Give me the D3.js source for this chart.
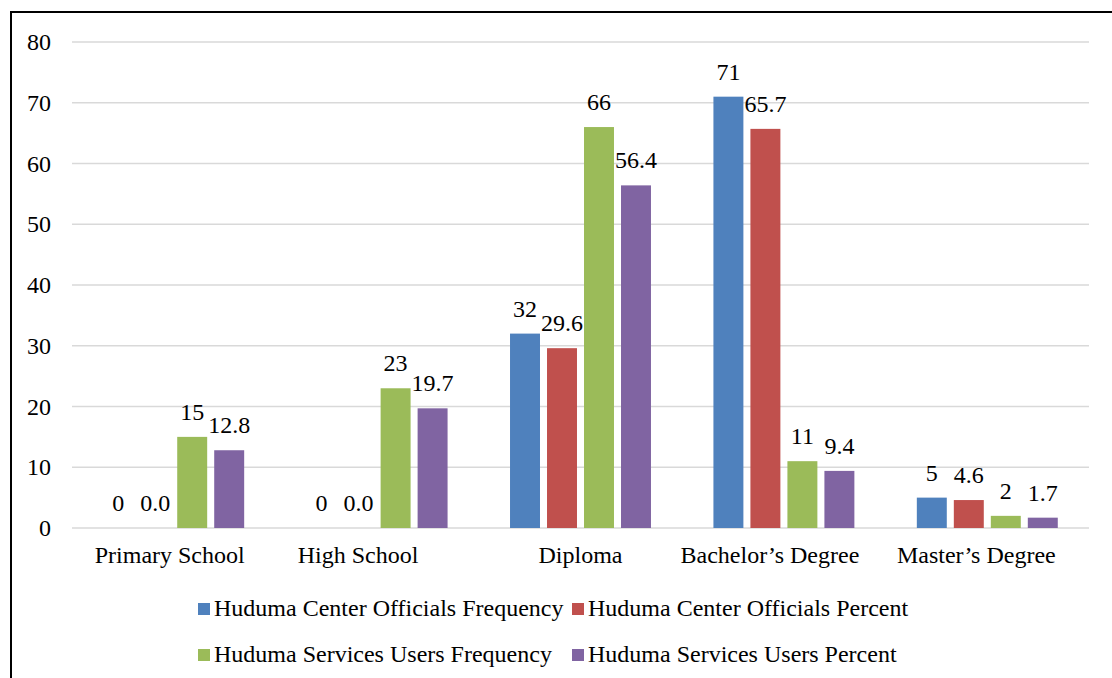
<!DOCTYPE html>
<html><head><meta charset="utf-8">
<script src="https://cdn.jsdelivr.net/npm/d3@7"></script>
<style>body{margin:0;background:#fff;} svg{display:block;font-family:"Liberation Serif","Times New Roman",serif;}</style>
</head><body>
<script>
const categories = ["Primary School","High School","Diploma","Bachelor’s Degree","Master’s Degree"];
const seriesNames = ["Huduma Center Officials Frequency","Huduma Center Officials Percent","Huduma Services Users Frequency","Huduma Services Users Percent"];
const officialsFreq = [0,0,32,71,5];
const officialsPct = [0.0,0.0,29.6,65.7,4.6];
const usersFreq = [15,23,66,11,2];
const usersPct = [12.8,19.7,56.4,9.4,1.7];
const yTicks = [0,10,20,30,40,50,60,70,80];
const colors = ["#4f81bd","#c0504d","#9bbb59","#8064a2"];
const decimals = [0,1,0,1];

const seriesVals = [officialsFreq, officialsPct, usersFreq, usersPct];
const W = 1112, H = 678;
const svg = d3.select("body").append("svg").attr("width",W).attr("height",H);

// frame
svg.append("path").attr("d","M11,678 V12 H1112").attr("fill","none").attr("stroke","#000").attr("stroke-width",2);

const mLeft = 72, mRight = 1089, mTop = 42, mBottom = 528;
const labelShift = [-4,-19,0,-14,-11]; // category label nudges seen in the reference
const x0 = d3.scaleBand().domain(categories).range([mLeft,mRight]).padding(0);
const x1 = d3.scaleBand().domain(d3.range(4)).range([0,x0.bandwidth()]).paddingInner(0.19).paddingOuter(0.844);
const y = d3.scaleLinear().domain([0,80]).range([mBottom,mTop]);

// grid
svg.append("g").selectAll("line").data(yTicks).join("line")
  .attr("x1",mLeft).attr("x2",mRight).attr("y1",d=>y(d)).attr("y2",d=>y(d))
  .attr("stroke","#d9d9d9").attr("stroke-width",1.5);

// y axis labels
const yAxis = d3.axisLeft(y).tickValues(yTicks).tickSize(0).tickPadding(0);
const ga = svg.append("g").attr("transform","translate(51,0)").call(yAxis);
ga.select(".domain").remove();
ga.selectAll("text").attr("font-size",24).attr("fill","#000").attr("font-family","Liberation Serif").attr("dy","0.32em");

// x axis labels
const xAxis = d3.axisBottom(x0).tickSize(0).tickPadding(0);
const gx = svg.append("g").attr("transform",`translate(0,${mBottom+18})`).call(xAxis);
gx.select(".domain").remove();
gx.selectAll("text").attr("font-size",24).attr("fill","#000").attr("font-family","Liberation Serif").attr("dy","0.71em")
  .attr("dx",(d,i)=>labelShift[i]);

// bars
const data = [];
categories.forEach((c,i)=>seriesVals.forEach((s,j)=>data.push({c,j,v:s[i]})));
svg.append("g").selectAll("rect").data(data).join("rect")
  .attr("x",d=>x0(d.c)+x1(d.j)).attr("width",x1.bandwidth())
  .attr("y",d=>y(d.v)).attr("height",d=>mBottom-y(d.v))
  .attr("fill",d=>colors[d.j]);
svg.append("g").selectAll("text").data(data).join("text")
  .attr("x",d=>x0(d.c)+x1(d.j)+x1.bandwidth()/2).attr("y",d=>y(d.v)-17)
  .attr("text-anchor","middle").attr("font-size",24).attr("fill","#000")
  .text(d=>d.v.toFixed(decimals[d.j]));

// legend
const legPos = [[198,603],[572,603],[198,649],[572,649]];
const lg = svg.append("g").selectAll("g").data(seriesNames).join("g")
  .attr("transform",(d,i)=>`translate(${legPos[i][0]},${legPos[i][1]})`);
lg.append("rect").attr("width",12).attr("height",12).attr("fill",(d,i)=>colors[i]);
lg.append("text").attr("x",16).attr("y",13).attr("font-size",24).attr("fill","#000").text(d=>d);
</script>
</body></html>
